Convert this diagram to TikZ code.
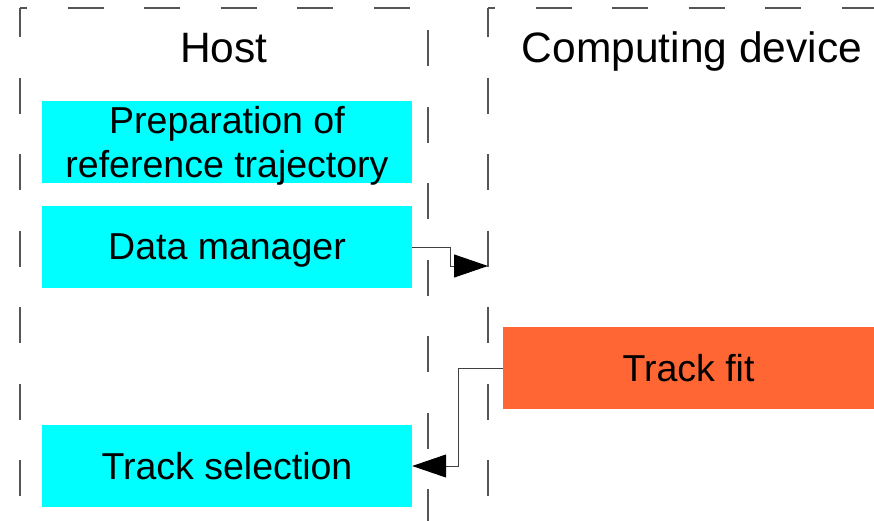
\documentclass[tikz,border=0pt]{standalone}
\usepackage{fontspec}
\setmainfont{Liberation Sans}
\usetikzlibrary{arrows.meta}
\definecolor{boxcyan}{HTML}{00FFFF}
\definecolor{boxorange}{HTML}{FF6633}
\definecolor{laneline}{HTML}{555555}
\definecolor{wire}{HTML}{404040}
\begin{document}
\begin{tikzpicture}[x=1pt,y=-1pt,
  lane/.style={draw=laneline, line width=1.1pt, dash pattern=on 36pt off 40.5pt},
  heading/.style={inner sep=0pt, font=\fontsize{42.5}{50}\selectfont, text height=30.5pt, text depth=0pt},
  hostbox/.style={fill=boxcyan, minimum width=370pt, minimum height=82pt, inner sep=0pt,
    font=\fontsize{37.5}{44}\selectfont, align=center, text depth=0pt},
  devbox/.style={hostbox, fill=boxorange, minimum width=371pt},
  wirestyle/.style={draw=wire, line width=1pt},
  tip/.style={-{Triangle[length=34pt,width=23pt,color=black]}}
]
\useasboundingbox (0,0) rectangle (874,520);
\clip (0,0) rectangle (874,520);

% swim lanes
\draw[lane, dash phase=29pt] (20,8) -- (428,8) -- (428,600);
\draw[lane, dash phase=7pt] (20,8) -- (20,600);
\draw[lane, dash phase=29pt] (488,8) -- (900,8);
\draw[lane, dash phase=7pt] (488,8) -- (488,600);

% headings
\node[heading] (host) at (224,47) {Host};
\node[heading] (dev) at (692,47) {Computing device};

% boxes
\node[hostbox] (prep) at (227,141.5) {Preparation of\\reference trajectory};
\node[hostbox] (dm) at (227,247) {Data manager};
\node[devbox] (tf) at (688.5,368) {Track fit};
\node[hostbox] (ts) at (227,466) {Track selection};

\coordinate (devin) at (488,266);

% connectors
\draw[wirestyle, tip] (dm.east) -- (450,247) |- (devin);
\draw[wirestyle, tip] (tf.west) -- (458,368) |- (ts.east);
\end{tikzpicture}
\end{document}
